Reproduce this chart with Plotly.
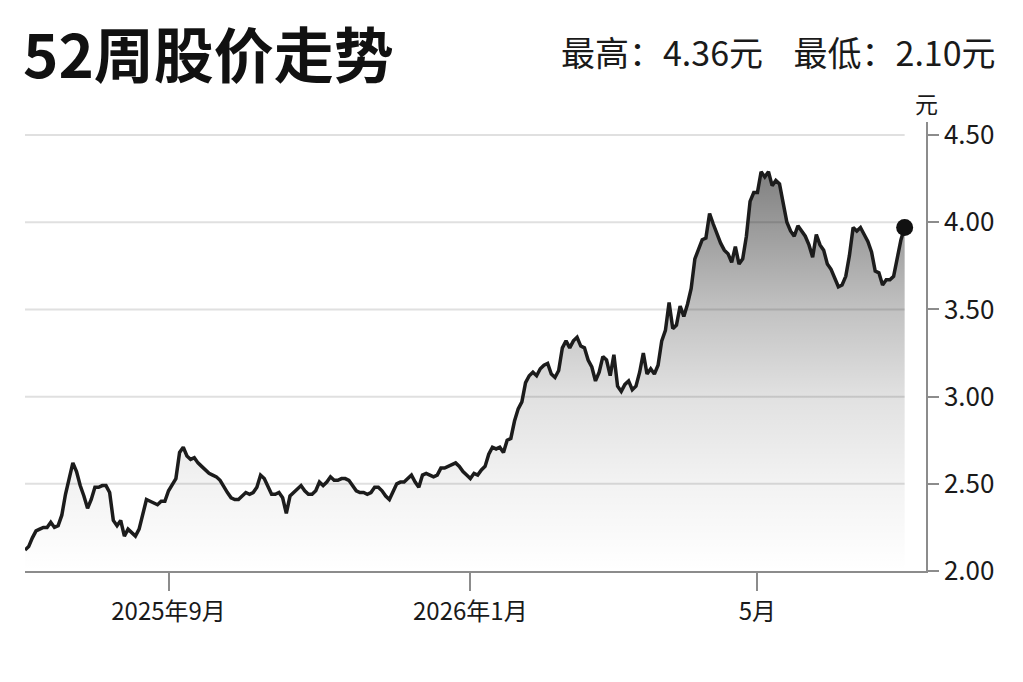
import plotly.graph_objects as go

# 52-week closing prices (CNY), one value per trading day
close = [
    2.12, 2.14, 2.19, 2.23, 2.24, 2.25, 2.25, 2.28, 2.25, 2.26,
    2.32, 2.44, 2.53, 2.62, 2.57, 2.49, 2.43, 2.36, 2.41, 2.48,
    2.48, 2.49, 2.49, 2.45, 2.29, 2.26, 2.29, 2.20, 2.24, 2.22,
    2.20, 2.24, 2.32, 2.41, 2.40, 2.39, 2.38, 2.40, 2.40, 2.46,
    2.50, 2.53, 2.68, 2.71, 2.66, 2.64, 2.65, 2.62, 2.60, 2.58,
    2.56, 2.55, 2.54, 2.52, 2.48, 2.45, 2.42, 2.41, 2.41, 2.43,
    2.45, 2.44, 2.45, 2.48, 2.55, 2.53, 2.48, 2.44, 2.44, 2.45,
    2.42, 2.33, 2.43, 2.45, 2.47, 2.49, 2.46, 2.44, 2.44, 2.46,
    2.51, 2.49, 2.51, 2.54, 2.52, 2.52, 2.53, 2.53, 2.52, 2.49,
    2.46, 2.45, 2.45, 2.44, 2.45, 2.48, 2.48, 2.46, 2.43, 2.41,
    2.46, 2.50, 2.51, 2.51, 2.53, 2.55, 2.51, 2.48, 2.55, 2.56,
    2.55, 2.54, 2.55, 2.59, 2.59, 2.60, 2.61, 2.62, 2.60, 2.57,
    2.55, 2.53, 2.56, 2.55, 2.58, 2.60, 2.67, 2.71, 2.70, 2.71,
    2.68, 2.75, 2.76, 2.86, 2.93, 2.97, 3.08, 3.12, 3.14, 3.12,
    3.16, 3.18, 3.19, 3.13, 3.11, 3.15, 3.28, 3.32, 3.28, 3.32,
    3.34, 3.29, 3.28, 3.21, 3.17, 3.09, 3.14, 3.23, 3.21, 3.12,
    3.24, 3.06, 3.03, 3.07, 3.09, 3.04, 3.06, 3.14, 3.25, 3.13,
    3.16, 3.13, 3.18, 3.32, 3.38, 3.54, 3.39, 3.41, 3.52, 3.46,
    3.53, 3.62, 3.79, 3.85, 3.90, 3.91, 4.05, 3.99, 3.93, 3.88,
    3.84, 3.82, 3.77, 3.86, 3.76, 3.79, 3.92, 4.12, 4.17, 4.17,
    4.29, 4.26, 4.29, 4.21, 4.24, 4.22, 4.11, 4.00, 3.95, 3.92,
    3.98, 3.95, 3.92, 3.87, 3.80, 3.93, 3.87, 3.84, 3.76, 3.73,
    3.68, 3.63, 3.64, 3.69, 3.81, 3.97, 3.95, 3.97, 3.93, 3.89,
    3.83, 3.72, 3.71, 3.64, 3.67, 3.67, 3.69, 3.80, 3.90, 3.97,
]
trade_day = list(range(len(close)))

# first trading day of the labelled months
tick_days = [39, 121, 199]
tick_labels = ["2025年9月", "2026年1月", "5月"]

price_ticks = [2.0, 2.5, 3.0, 3.5, 4.0, 4.5]
high_52w = 4.36
low_52w = 2.10

FONT = "Noto Sans CJK SC"
AXIS_GREY = "#8c8c8c"

fig = go.Figure()

# horizontal guides only across the data span
for p in price_ticks[1:]:
    fig.add_shape(
        type="line", xref="x", yref="y",
        x0=trade_day[0], x1=trade_day[-1], y0=p, y1=p,
        line=dict(color="#e0e0e0", width=2), layer="below",
    )

fig.add_trace(
    go.Scatter(
        x=trade_day,
        y=close,
        mode="lines",
        line=dict(color="#1c1c1c", width=3.5),
        fill="tozeroy",
        fillgradient=dict(
            type="vertical",
            start=2.0,
            stop=4.3,
            colorscale=[
                [0.0, "rgba(0,0,0,0)"],
                [0.22, "rgba(0,0,0,0.05)"],
                [0.44, "rgba(0,0,0,0.12)"],
                [0.65, "rgba(0,0,0,0.24)"],
                [1.0, "rgba(0,0,0,0.5)"],
            ],
        ),
        hoverinfo="skip",
        showlegend=False,
    )
)

# latest price marker
fig.add_trace(
    go.Scatter(
        x=[trade_day[-1]], y=[close[-1]],
        mode="markers",
        marker=dict(color="#111111", size=17),
        showlegend=False,
    )
)

fig.update_xaxes(
    range=[0, 244.8],
    tickvals=tick_days,
    ticktext=tick_labels,
    showgrid=False,
    zeroline=False,
    showline=True,
    linecolor=AXIS_GREY,
    linewidth=1.5,
    ticks="outside",
    ticklen=18,
    tickwidth=1.5,
    tickcolor=AXIS_GREY,
    tickfont=dict(family=FONT, size=24, color="#1a1a1a"),
)
fig.update_yaxes(
    side="right",
    range=[2.0, 4.575],
    tickvals=price_ticks,
    ticktext=[f"{p:.2f}" for p in price_ticks],
    showgrid=False,
    zeroline=False,
    showline=True,
    linecolor=AXIS_GREY,
    linewidth=1.5,
    ticks="outside",
    ticklen=11,
    tickwidth=1.5,
    tickcolor=AXIS_GREY,
    tickfont=dict(family=FONT, size=26, color="#1a1a1a"),
)

fig.add_annotation(
    text="<b>52周股价走势</b>",
    xref="paper", yref="paper", x=0, y=1,
    xanchor="left", yanchor="middle", xshift=-4, yshift=71,
    showarrow=False,
    font=dict(family=FONT, size=60, color="#111111", weight=900),
)
fig.add_annotation(
    text=f"最高：{high_52w:.2f}元&nbsp;&nbsp;&nbsp;&nbsp;最低：{low_52w:.2f}元",
    xref="paper", yref="paper", x=1, y=1,
    xanchor="right", yanchor="middle", xshift=72, yshift=71,
    showarrow=False,
    font=dict(family=FONT, size=34, color="#1a1a1a"),
)
fig.add_annotation(
    text="元",
    xref="paper", yref="paper", x=1, y=1,
    xanchor="center", yanchor="middle", xshift=0, yshift=19,
    showarrow=False,
    font=dict(family=FONT, size=23, color="#1a1a1a"),
)

fig.update_layout(
    width=1023,
    height=682,
    margin=dict(l=17, r=105, t=114, b=119),
    paper_bgcolor="white",
    plot_bgcolor="white",
    font=dict(family=FONT),
    showlegend=False,
)

fig.write_html("out.html")
